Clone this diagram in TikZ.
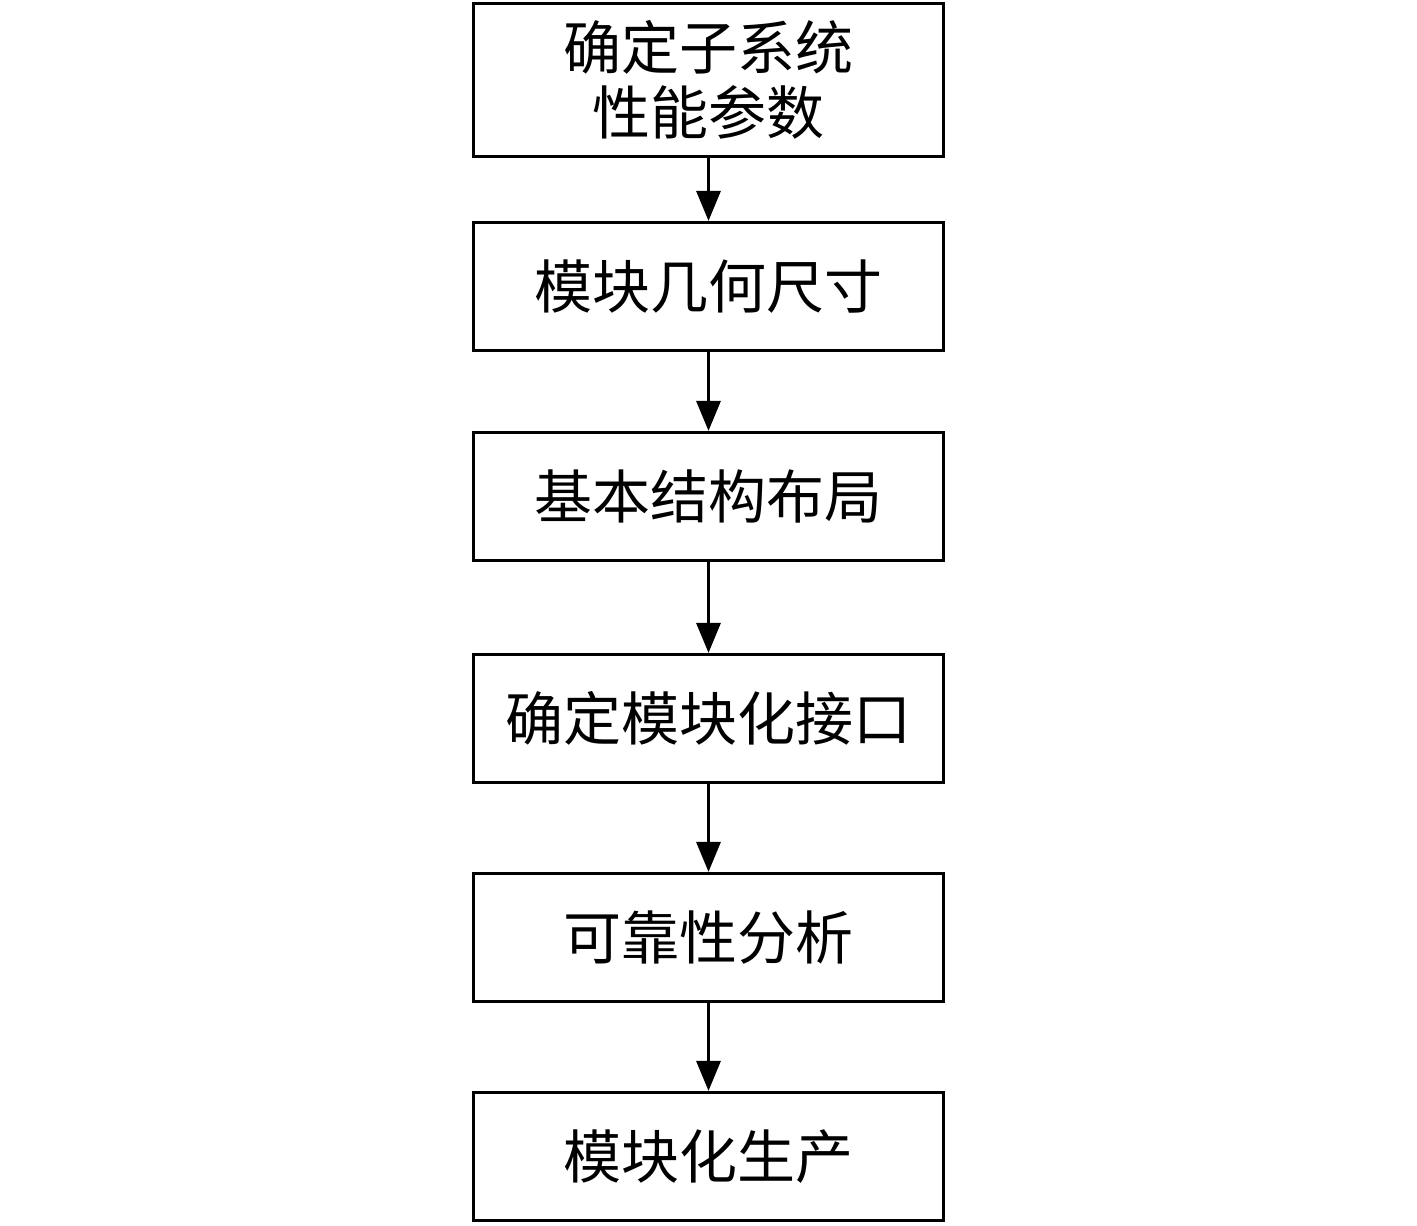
\documentclass[tikz,border=0pt]{standalone}
\usepackage{fontspec}
\newfontfamily\cjk{Noto Sans CJK SC}
\usetikzlibrary{arrows.meta}
\begin{document}
\begin{tikzpicture}[x=1pt,y=-1pt,
  stepbox/.style={draw=black,line width=3.2pt,minimum width=470pt,minimum height=128pt,inner sep=0pt,align=center,font=\cjk\fontsize{58}{65}\selectfont},
  flow/.style={line width=3.2pt,-{Triangle[length=30pt,width=24pt]}}]
\useasboundingbox (0,0) rectangle (1417,1226);
\node[stepbox,minimum height=153pt] (a) at (708.5,80) {确定子系统\\性能参数};
\node[stepbox] (b) at (708.5,286.5) {模块几何尺寸};
\node[stepbox] (c) at (708.5,496.5) {基本结构布局};
\node[stepbox] (d) at (708.5,718.5) {确定模块化接口};
\node[stepbox] (e) at (708.5,937.5) {可靠性分析};
\node[stepbox] (f) at (708.5,1156.5) {模块化生产};
\draw[flow] (a) -- (b);
\draw[flow] (b) -- (c);
\draw[flow] (c) -- (d);
\draw[flow] (d) -- (e);
\draw[flow] (e) -- (f);
\end{tikzpicture}
\end{document}
